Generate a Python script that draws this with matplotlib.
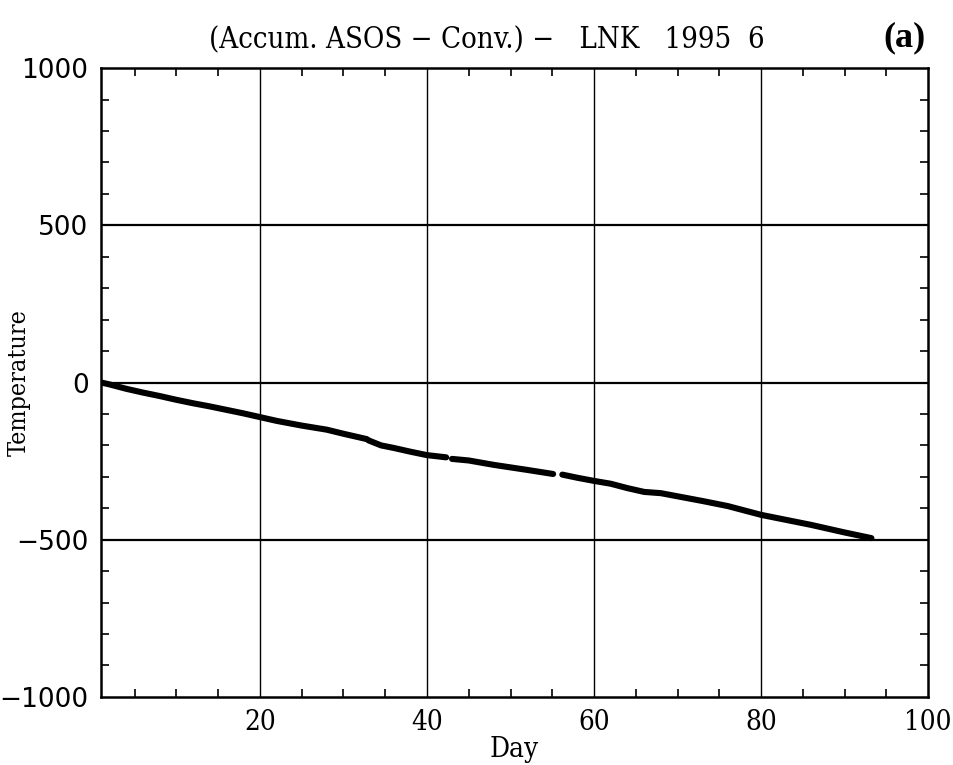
import numpy as np
import matplotlib
matplotlib.use('Agg')
import matplotlib.pyplot as plt
from matplotlib.ticker import MultipleLocator

# accumulated difference (ASOS - conventional); nan = gap
day = [1, 2, 4, 6, 8, 10, 12, 14, 16, 18, 20, 22, 25, 28, 30, 32.8, np.nan,
       33.0, 34.5, 36, 38, 40, 42.3, np.nan, 43.0, 45, 48, 50, 52, 55.1, np.nan,
       56.2, 58, 60, 62, 64, 66, 68, 70, 73, 76, 80, 83, 86, 90, 93.2]
accum = [0, -6, -20, -32, -43, -55, -66, -76, -87, -98, -110, -122, -137, -150,
         -163, -180, np.nan, -184, -200, -208, -220, -231, -238, np.nan, -243,
         -248, -262, -270, -278, -291, np.nan, -293, -303, -313, -322, -336,
         -348, -352, -362, -377, -393, -421, -437, -453, -477, -495]

x_ticks = [20, 40, 60, 80, 100]
y_ticks = [-1000, -500, 0, 500, 1000]

fig = plt.figure(figsize=(9.54, 7.65), dpi=100)
ax = fig.add_axes([0.106, 0.089, 0.867, 0.822])

ax.plot(day, accum, color='black', lw=4.4, solid_capstyle='round')

# grid lines
for xv in x_ticks[:-1]:
    ax.axvline(xv, color='black', lw=1.0, zorder=1)
for yv in y_ticks[1:-1]:
    ax.axhline(yv, color='black', lw=1.6, zorder=1)

ax.set_xlim(1, 100)
ax.set_ylim(-1000, 1000)
ax.set_xticks(x_ticks)
ax.set_yticks(y_ticks)
ax.xaxis.set_minor_locator(MultipleLocator(5))
ax.yaxis.set_minor_locator(MultipleLocator(100))
ax.tick_params(which='major', length=0, pad=9)
ax.tick_params(which='minor', direction='in', length=6, width=1.2,
               top=True, right=True)
ax.set_xticklabels([str(v) for v in x_ticks], family='DejaVu Serif',
                   stretch='condensed', fontsize=20)
ax.set_yticklabels(['\u22121000', '\u2212500', '0', '500', '1000'],
                   family='DejaVu Sans', fontsize=19)
for sp in ax.spines.values():
    sp.set_linewidth(1.8)

ax.set_xlabel('Day', family='DejaVu Serif', stretch='condensed',
              fontsize=20, labelpad=0)
ax.set_ylabel('Temperature', family='DejaVu Serif', stretch='condensed',
              fontsize=18)
ax.yaxis.set_label_coords(-0.085, 0.5)

fig.text(0.51, 0.947, '(Accum. ASOS \u2212 Conv.) \u2212   LNK   1995  6',
         ha='center', va='center', family='DejaVu Serif', stretch='condensed',
         fontsize=21)
fig.text(0.948, 0.951, '(a)', ha='center', va='center',
         family='Liberation Serif', fontweight='bold', fontsize=26)

fig.savefig('out.png', dpi=100)
